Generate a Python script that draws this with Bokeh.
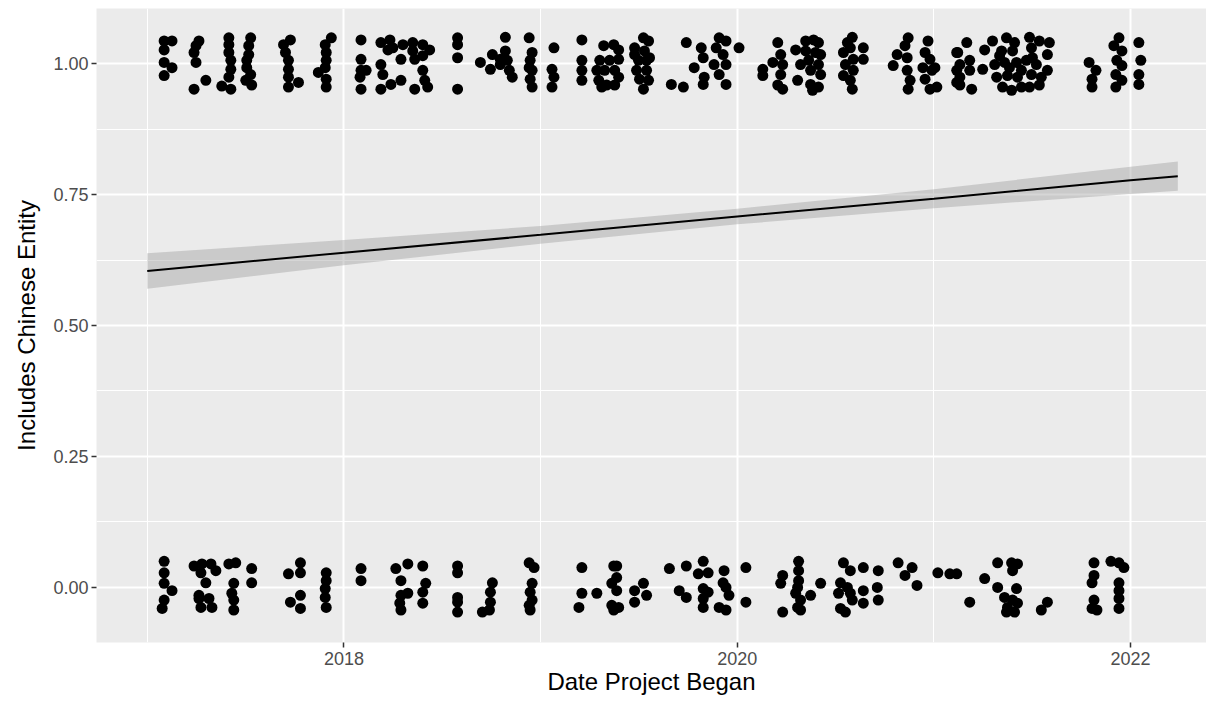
from bokeh.plotting import figure
from bokeh.models import FixedTicker, NumeralTickFormatter, Range1d, ColumnDataSource
from bokeh.embed import file_html
from bokeh.resources import INLINE

# ---- data: project start (decimal year) and jittered "includes Chinese entity" (1 = yes)
top_x = [
    2017.086, 2017.126, 2017.086, 2017.086, 2017.126, 2017.086,
    2017.263, 2017.248, 2017.238, 2017.248, 2017.238, 2017.298,
    2017.415, 2017.415, 2017.415, 2017.425, 2017.425, 2017.415, 2017.379, 2017.425,
    2017.526, 2017.516, 2017.516, 2017.506, 2017.506, 2017.526, 2017.531, 2017.501,
    2017.728, 2017.693, 2017.703, 2017.718, 2017.718, 2017.718, 2017.718, 2017.769,
    2017.936, 2017.905, 2017.910, 2017.910, 2017.905, 2017.870, 2017.910, 2017.910,
    2018.087, 2018.087, 2018.087, 2018.082, 2018.087, 2018.113,
    2018.188, 2018.234, 2018.249, 2018.300, 2018.350, 2018.401, 2018.436, 2018.290,
    2018.360, 2018.401, 2018.188, 2018.198, 2018.188, 2018.239, 2018.290, 2018.360,
    2018.401, 2018.411, 2018.426, 2018.350, 2018.224,
    2018.578, 2018.578, 2018.578, 2018.578,
    2018.821, 2018.821, 2018.755, 2018.694, 2018.745, 2018.795, 2018.831, 2018.841,
    2018.856, 2018.795,
    2018.942, 2018.957, 2018.947, 2018.957, 2018.947, 2018.957, 2018.942,
    2019.068, 2019.058, 2019.068, 2019.058,
    2019.210, 2019.210, 2019.210, 2019.210,
    2019.321, 2019.372, 2019.397, 2019.301, 2019.351, 2019.397, 2019.286, 2019.326,
    2019.377, 2019.296, 2019.336, 2019.377, 2019.311, 2019.397,
    2019.523, 2019.549, 2019.478, 2019.528, 2019.498, 2019.539, 2019.488, 2019.539,
    2019.503, 2019.549, 2019.523, 2019.478, 2019.554,
    2019.665, 2019.726,
    2019.741, 2019.817, 2019.827, 2019.781, 2019.832, 2019.827, 2019.908, 2019.943,
    2019.893, 2019.928, 2019.943, 2019.908, 2019.943, 2019.882, 2020.009,
    2020.130, 2020.130, 2020.206, 2020.221, 2020.181, 2020.231, 2020.221, 2020.206,
    2020.231,
    2020.297, 2020.348, 2020.388, 2020.413, 2020.424, 2020.413, 2020.363, 2020.322,
    2020.373, 2020.424, 2020.307, 2020.373, 2020.413, 2020.383, 2020.348, 2020.398,
    2020.585, 2020.560, 2020.540, 2020.550, 2020.540, 2020.585, 2020.641, 2020.641,
    2020.575, 2020.590, 2020.575, 2020.590,
    2020.869, 2020.853, 2020.813, 2020.793, 2020.864, 2020.864, 2020.879, 2020.869,
    2020.970, 2020.955, 2020.980, 2020.944, 2020.990, 2020.955, 2021.015, 2021.005,
    2020.980, 2021.116, 2021.116, 2021.116,
    2021.167, 2021.121, 2021.132, 2021.132, 2021.182, 2021.182, 2021.192, 2021.248,
    2021.258, 2021.132,
    2021.298, 2021.369, 2021.410, 2021.486, 2021.536, 2021.587, 2021.344, 2021.400,
    2021.496, 2021.577, 2021.309, 2021.359, 2021.420, 2021.470, 2021.521, 2021.577,
    2021.319, 2021.374, 2021.425, 2021.496, 2021.546, 2021.349, 2021.395, 2021.486,
    2021.536, 2021.445, 2021.384, 2021.445, 2021.334, 2021.501,
    2021.789, 2021.824, 2021.804, 2021.804,
    2021.941, 2021.915, 2021.956, 2021.930, 2021.956, 2021.925, 2021.956, 2021.925,
    2022.042, 2022.052, 2022.042, 2022.042,
]
top_y = [
    1.043, 1.043, 1.026, 1.002, 0.992, 0.977,
    1.043, 1.034, 1.021, 1.002, 0.951, 0.968,
    1.049, 1.036, 1.021, 1.006, 0.989, 0.974, 0.957, 0.951,
    1.049, 1.034, 1.017, 1.006, 0.992, 0.979, 0.959, 0.968,
    1.045, 1.036, 1.021, 1.006, 0.989, 0.974, 0.955, 0.964,
    1.049, 1.036, 1.021, 1.006, 0.992, 0.983, 0.970, 0.955,
    1.045, 1.008, 0.987, 0.974, 0.951, 0.987,
    1.040, 1.045, 1.030, 1.036, 1.040, 1.036, 1.026, 1.008,
    1.008, 1.015, 0.998, 0.979, 0.951, 0.960, 0.968, 0.951,
    0.987, 0.968, 0.955, 1.024, 1.026,
    1.049, 1.036, 1.011, 0.951,
    1.050, 1.024, 1.017, 1.002, 0.989, 0.998, 1.006, 0.987,
    0.974, 1.008,
    1.049, 1.021, 1.006, 0.987, 0.970, 0.955, 0.992,
    1.030, 0.989, 0.974, 0.955,
    1.045, 1.006, 0.987, 0.968,
    1.034, 1.036, 1.026, 1.006, 1.006, 1.008, 0.987, 0.987,
    0.987, 0.968, 0.959, 0.959, 0.955, 0.974,
    1.049, 1.043, 1.030, 1.024, 1.006, 1.006, 0.987, 0.987,
    0.970, 0.968, 0.951, 1.017, 1.011,
    0.960, 0.955,
    1.040, 1.030, 1.011, 0.992, 0.974, 0.960, 1.049, 1.043,
    1.030, 1.017, 0.998, 0.979, 0.960, 0.998, 1.030,
    0.989, 0.977, 1.040, 1.017, 1.002, 0.998, 0.979, 0.959,
    0.951,
    1.026, 1.043, 1.045, 1.040, 1.017, 0.998, 1.006, 0.998,
    0.987, 0.979, 0.968, 0.960, 0.955, 0.949, 1.024, 1.021,
    1.050, 1.040, 1.021, 0.998, 0.977, 0.951, 1.030, 1.008,
    0.968, 0.987, 1.030, 1.008,
    1.049, 1.034, 1.017, 0.996, 1.011, 0.987, 0.968, 0.951,
    1.043, 1.021, 1.008, 0.992, 0.987, 0.970, 0.955, 0.992,
    0.951, 1.021, 0.987, 0.964,
    1.040, 1.021, 0.998, 0.974, 1.006, 0.987, 0.951, 0.989,
    1.026, 0.959,
    1.043, 1.049, 1.040, 1.050, 1.043, 1.040, 1.024, 1.024,
    1.030, 1.017, 0.998, 1.002, 1.002, 1.006, 0.998, 0.987,
    0.974, 0.977, 0.974, 0.979, 0.974, 0.955, 0.949, 0.955,
    0.959, 0.955, 0.992, 0.987, 1.015, 1.011,
    1.002, 0.987, 0.970, 0.955,
    1.049, 1.034, 1.024, 1.006, 0.996, 0.979, 0.968, 0.955,
    1.040, 1.006, 0.979, 0.960,
]
bot_x = [
    2017.086, 2017.086, 2017.086, 2017.126, 2017.086, 2017.076,
    2017.238, 2017.278, 2017.324, 2017.349, 2017.273, 2017.298, 2017.263, 2017.314,
    2017.273, 2017.329, 2017.263,
    2017.415, 2017.450, 2017.440, 2017.430, 2017.440, 2017.440,
    2017.531, 2017.531,
    2017.779, 2017.779, 2017.718, 2017.779, 2017.728, 2017.779,
    2017.910, 2017.910, 2017.905, 2017.905, 2017.910,
    2018.087, 2018.087,
    2018.264, 2018.325, 2018.401, 2018.290, 2018.290, 2018.325, 2018.290, 2018.416,
    2018.401, 2018.401, 2018.284,
    2018.578, 2018.578, 2018.578, 2018.578, 2018.578,
    2018.755, 2018.745, 2018.745, 2018.740, 2018.704,
    2018.942, 2018.967, 2018.957, 2018.947, 2018.957, 2018.947, 2018.942,
    2019.210, 2019.210, 2019.195, 2019.286,
    2019.372, 2019.387, 2019.387, 2019.362, 2019.387, 2019.362, 2019.397, 2019.372,
    2019.478, 2019.523, 2019.539, 2019.478,
    2019.655, 2019.741, 2019.827, 2019.802, 2019.852, 2019.705, 2019.741, 2019.827,
    2019.852, 2019.827, 2019.827,
    2019.933, 2019.928, 2019.943, 2019.958, 2019.908, 2019.943,
    2020.044, 2020.044,
    2020.231, 2020.221, 2020.231,
    2020.312, 2020.312, 2020.312, 2020.307, 2020.297, 2020.322, 2020.307, 2020.322,
    2020.373, 2020.424,
    2020.540, 2020.575, 2020.525, 2020.560, 2020.515, 2020.575, 2020.525, 2020.550,
    2020.585, 2020.641, 2020.641, 2020.641, 2020.717, 2020.712, 2020.717,
    2020.818, 2020.889, 2020.853, 2020.914,
    2021.020, 2021.081, 2021.116,
    2021.258, 2021.182,
    2021.324, 2021.395, 2021.425, 2021.400, 2021.324, 2021.420, 2021.359, 2021.400,
    2021.374, 2021.410, 2021.369, 2021.425,
    2021.546, 2021.577,
    2021.814, 2021.814, 2021.804, 2021.814, 2021.804, 2021.829,
    2021.900, 2021.941, 2021.966, 2021.941, 2021.941, 2021.941, 2021.941,
]
bot_y = [
    0.050, 0.028, 0.008, -0.006, -0.024, -0.040,
    0.041, 0.045, 0.045, 0.032, 0.028, 0.009, -0.021, -0.021,
    -0.038, -0.038, -0.015,
    0.045, 0.047, 0.008, -0.011, -0.024, -0.043,
    0.036, 0.009,
    0.047, 0.028, 0.026, -0.015, -0.028, -0.040,
    0.028, 0.013, -0.002, -0.019, -0.038,
    0.036, 0.013,
    0.036, 0.045, 0.041, 0.013, -0.015, -0.011, -0.043, 0.008,
    -0.009, -0.030, -0.030,
    0.041, 0.028, -0.019, -0.028, -0.047,
    0.009, -0.009, -0.028, -0.043, -0.047,
    0.047, 0.038, 0.008, -0.009, -0.024, -0.043, -0.034,
    0.038, -0.011, -0.038, -0.011,
    0.041, 0.041, 0.019, 0.008, -0.006, -0.034, -0.038, -0.043,
    -0.006, 0.008, -0.015, -0.028,
    0.036, 0.041, 0.050, 0.026, 0.028, -0.006, -0.019, -0.002,
    -0.009, -0.021, -0.038,
    0.032, 0.009, 0.000, -0.015, -0.038, -0.043,
    0.038, -0.028,
    0.023, 0.008, -0.047,
    0.050, 0.032, 0.013, 0.000, -0.011, -0.024, -0.038, -0.043,
    -0.015, 0.008,
    0.047, 0.032, 0.009, 0.000, -0.011, -0.011, -0.040, -0.047,
    -0.024, 0.038, -0.006, -0.030, 0.032, 0.000, -0.024,
    0.047, 0.038, 0.023, 0.004,
    0.028, 0.026, 0.026,
    0.017, -0.028,
    0.047, 0.047, 0.045, 0.032, 0.000, -0.002, -0.019, -0.024,
    -0.038, -0.047, -0.047, -0.030,
    -0.043, -0.028,
    0.047, 0.023, 0.009, -0.024, -0.040, -0.043,
    0.050, 0.047, 0.038, 0.009, -0.006, -0.021, -0.040,
]

# linear smooth with 95% confidence band
smooth_x = [2017.0, 2018.0, 2019.0, 2020.0, 2021.0, 2022.0, 2022.24]
smooth_fit = [0.604, 0.639, 0.673, 0.708, 0.742, 0.777, 0.785]
smooth_lo = [0.570, 0.615, 0.656, 0.693, 0.724, 0.751, 0.757]
smooth_hi = [0.638, 0.663, 0.690, 0.723, 0.760, 0.803, 0.813]

x_ticks = [2018, 2020, 2022]
x_minor = [2017, 2019, 2021]
y_ticks = [0.0, 0.25, 0.5, 0.75, 1.0]
y_minor = [0.125, 0.375, 0.625, 0.875]

FONT = "Liberation Sans"

p = figure(width=1206, height=697, output_backend="svg", toolbar_location=None,
           x_range=Range1d(2016.742, 2022.386), y_range=Range1d(-0.105, 1.105),
           min_border_left=96, min_border_right=0, min_border_top=8,
           min_border_bottom=40)
p.background_fill_color = "#EBEBEB"
p.border_fill_color = "white"
p.outline_line_color = None

p.xaxis.ticker = FixedTicker(ticks=x_ticks, minor_ticks=x_minor)
p.yaxis.ticker = FixedTicker(ticks=y_ticks, minor_ticks=y_minor)
p.yaxis.formatter = NumeralTickFormatter(format="0.00")

for g in (p.xgrid, p.ygrid):
    g.grid_line_color = "white"
    g.grid_line_width = 2
    g.minor_grid_line_color = "white"
    g.minor_grid_line_width = 1

for ax in (p.xaxis, p.yaxis):
    ax.axis_line_color = None
    ax.major_tick_line_color = "#333333"
    ax.major_tick_line_width = 1.5
    ax.major_tick_out = 5
    ax.major_tick_in = 0
    ax.minor_tick_line_color = None
    ax.major_label_text_font = FONT
    ax.major_label_text_font_size = "18px"
    ax.major_label_text_color = "#4D4D4D"
    ax.axis_label_text_font = FONT
    ax.axis_label_text_font_size = "24px"
    ax.axis_label_text_font_style = "normal"
    ax.axis_label_text_color = "black"

p.xaxis.axis_label = "Date Project Began"
p.yaxis.axis_label = "Includes Chinese Entity"
p.xaxis.major_label_standoff = 4
p.xaxis.axis_label_standoff = 0
p.yaxis.major_label_standoff = 3
p.yaxis.axis_label_standoff = 10

pts = ColumnDataSource(dict(x=top_x + bot_x, y=top_y + bot_y))
p.scatter("x", "y", source=pts, size=11, fill_color="black", line_color=None)

sm = ColumnDataSource(dict(x=smooth_x, fit=smooth_fit, lo=smooth_lo, hi=smooth_hi))
p.varea(x="x", y1="lo", y2="hi", source=sm, fill_color="#999999", fill_alpha=0.4)
p.line(x="x", y="fit", source=sm, line_color="black", line_width=2)

open("out.html", "w").write(file_html(p, INLINE))
